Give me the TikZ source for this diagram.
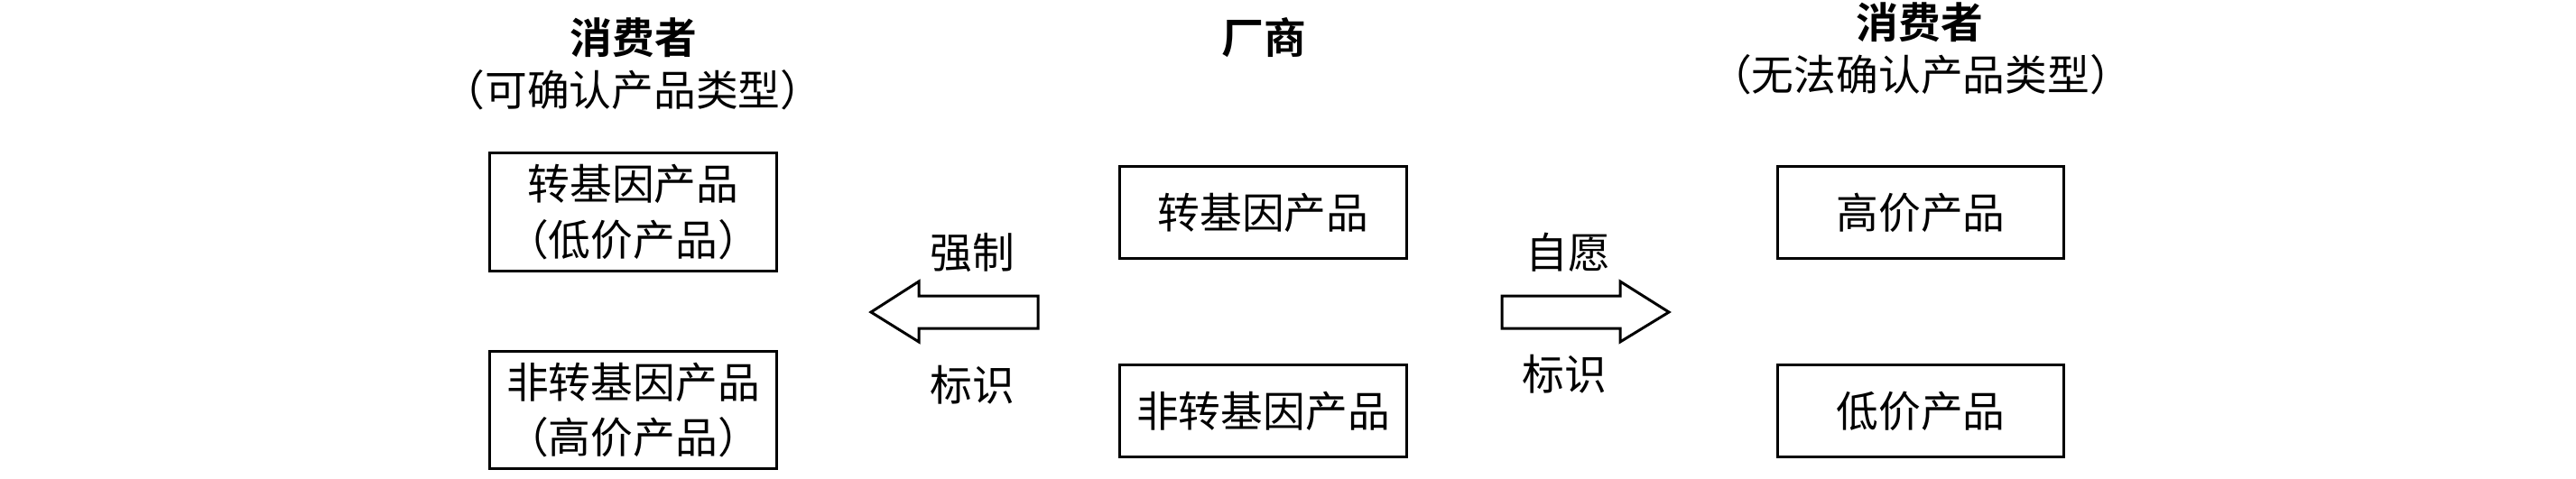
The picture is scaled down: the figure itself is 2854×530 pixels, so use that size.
\documentclass[tikz,border=0pt]{standalone}
\usepackage{fontspec}
\newfontfamily\cjk{Noto Sans CJK SC}[BoldFont={Noto Sans CJK SC Bold}]
\tikzset{
  prodbox/.style={draw,line width=.85pt,minimum width=3.17cm,minimum height=1.01cm,inner sep=0pt,align=center,font=\cjk\fontsize{13.3}{17.4}\selectfont},
  headtxt/.style={inner sep=0pt,align=center,font=\cjk\fontsize{13.3}{16.4}\selectfont},
  armtxt/.style={inner sep=0pt,font=\cjk\fontsize{13.3}{16}\selectfont}
}
\begin{document}
\begin{tikzpicture}[x=.01cm,y=-.01cm]
\path[use as bounding box] (0,0) rectangle (2854,530);
% headings
\node[headtxt] (lhead) at (702,42) {\bfseries 消费者};
\node[headtxt] (lsub) at (701,100) {（可确认产品类型）};
\node[headtxt] (mhead) at (1400,42) {\bfseries 厂商};
\node[headtxt] (rhead) at (2127,25) {\bfseries 消费者};
\node[headtxt] (rsub) at (2128,83) {（无法确认产品类型）};
% product boxes
\node[prodbox,minimum height=1.30cm] (lgm) at (701.5,235) {转基因产品\\（低价产品）};
\node[prodbox,minimum height=1.30cm] (lngm) at (701.5,454.5) {非转基因产品\\（高价产品）};
\node[prodbox] (mgm) at (1399.5,235.5) {转基因产品};
\node[prodbox] (mngm) at (1399.5,455.5) {非转基因产品};
\node[prodbox] (rhigh) at (2128,235.5) {高价产品};
\node[prodbox] (rlow) at (2128,455.5) {低价产品};
% block arrows
\draw[line width=.85pt,line join=miter] (965,346)--(1018,312)--(1018,328)--(1150,328)--(1150,364)--(1018,364)--(1018,379)--cycle;
\draw[line width=.85pt,line join=miter] (1849,346)--(1795,312)--(1795,328)--(1664,328)--(1664,364)--(1795,364)--(1795,379)--cycle;
\node[armtxt] (lforce) at (1077,280) {强制};
\node[armtxt] (llabel) at (1077,427) {标识};
\node[armtxt] (rvol) at (1737,280) {自愿};
\node[armtxt] (rlabel) at (1733,415) {标识};
\end{tikzpicture}
\end{document}
